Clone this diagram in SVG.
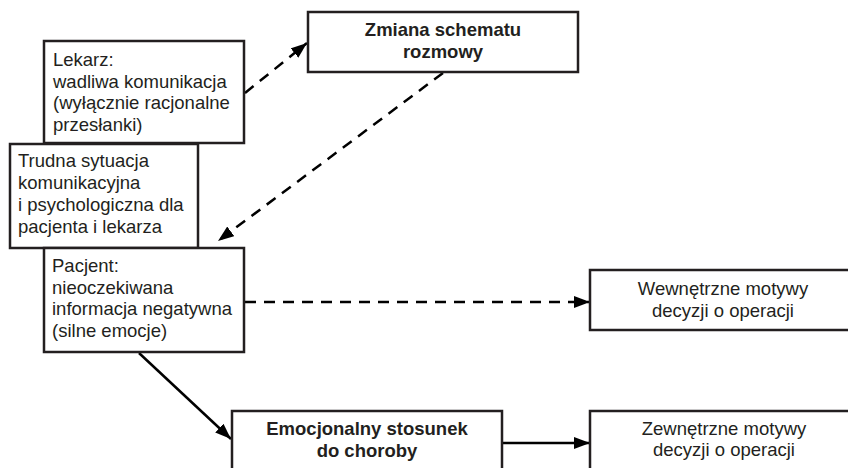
<svg xmlns="http://www.w3.org/2000/svg" width="848" height="468" viewBox="0 0 848 468">
<defs>
<marker id="ah" markerUnits="userSpaceOnUse" markerWidth="18" markerHeight="14" refX="16" refY="6" orient="auto">
<path d="M0,0 L16,6 L0,12 Z" fill="#000"/>
</marker>
<style>
.box{fill:#fff;stroke:#231f20;stroke-width:2.5}
.t{font-family:"Liberation Sans",Arial,sans-serif;font-size:18.5px;fill:#231f20}
.b{font-weight:bold;text-anchor:middle}
.c{text-anchor:middle}
.dash{stroke:#000;stroke-width:2.5;fill:none;stroke-dasharray:11 8}
.solid{stroke:#000;stroke-width:2.5;fill:none}
</style>
</defs>
<rect width="848" height="468" fill="#fff"/>
<g id="connectors">
<line class="dash" x1="245" y1="93" x2="307" y2="43" marker-end="url(#ah)"/>
<line class="dash" x1="443" y1="73" x2="218" y2="241" marker-end="url(#ah)"/>
<line class="dash" x1="245" y1="302" x2="590" y2="302" marker-end="url(#ah)"/>
<line class="solid" x1="139" y1="353" x2="231" y2="439" marker-end="url(#ah)"/>
<line class="solid" x1="502" y1="443" x2="590" y2="443" marker-end="url(#ah)"/>
</g>
<g id="zmiana">
<rect class="box" x="308" y="12" width="270" height="60"/>
<text class="t b" x="443" y="36">Zmiana schematu</text>
<text class="t b" x="443" y="58">rozmowy</text>
</g>
<g id="lekarz">
<rect class="box" x="44" y="41" width="200" height="102"/>
<text class="t" x="53" y="66">Lekarz:</text>
<text class="t" x="53" y="87.5">wadliwa komunikacja</text>
<text class="t" x="53" y="109">(wyłącznie racjonalne</text>
<text class="t" x="53" y="130.5">przesłanki)</text>
</g>
<g id="trudna">
<rect class="box" x="10" y="144" width="188" height="104"/>
<text class="t" x="18" y="167">Trudna sytuacja</text>
<text class="t" x="18" y="189">komunikacyjna</text>
<text class="t" x="18" y="211">i psychologiczna dla</text>
<text class="t" x="18" y="233">pacjenta i lekarza</text>
</g>
<g id="pacjent">
<rect class="box" x="44" y="248" width="200" height="104"/>
<text class="t" x="52" y="272">Pacjent:</text>
<text class="t" x="52" y="293.5">nieoczekiwana</text>
<text class="t" x="52" y="315">informacja negatywna</text>
<text class="t" x="52" y="337">(silne emocje)</text>
</g>
<g id="wewnetrzne">
<rect class="box" x="590" y="270" width="266" height="60"/>
<text class="t c" x="723" y="295">Wewnętrzne motywy</text>
<text class="t c" x="723" y="317">decyzji o operacji</text>
</g>
<g id="emocjonalny">
<rect class="box" x="232" y="411" width="270" height="62"/>
<text class="t b" x="367" y="435">Emocjonalny stosunek</text>
<text class="t b" x="367" y="457">do choroby</text>
</g>
<g id="zewnetrzne">
<rect class="box" x="590" y="411" width="266" height="62"/>
<text class="t c" x="724" y="435">Zewnętrzne motywy</text>
<text class="t c" x="724" y="456">decyzji o operacji</text>
</g>
</svg>
